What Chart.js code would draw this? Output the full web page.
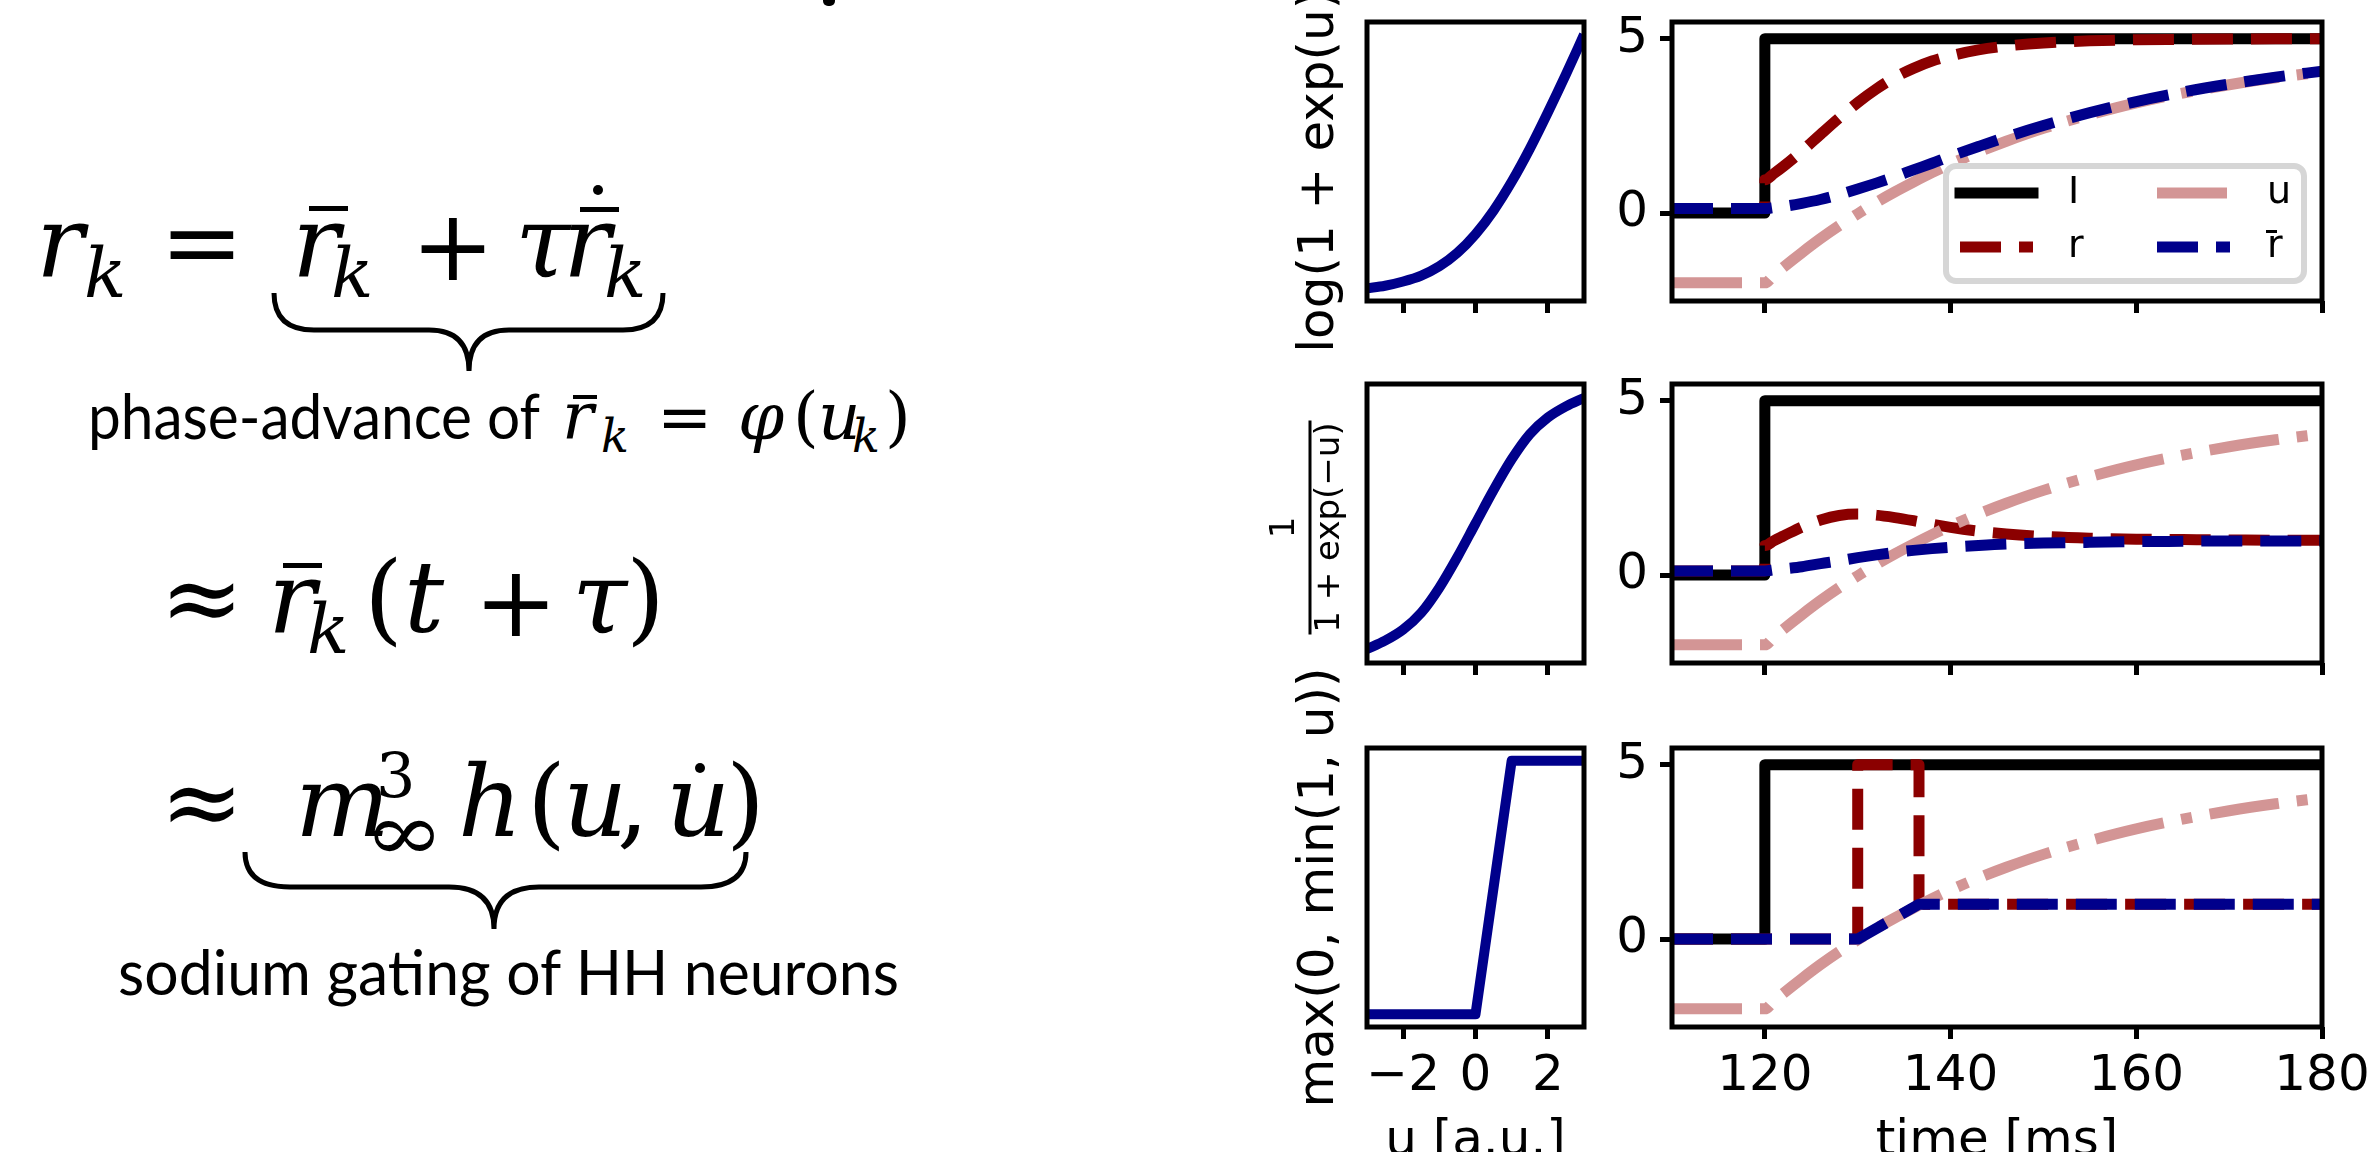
<!DOCTYPE html>
<html>
<head>
<meta charset="utf-8">
<title>phase-advance rate models</title>
<script src="https://cdn.jsdelivr.net/npm/chart.js@4.4.1/dist/chart.umd.min.js"></script>
<style>
  html, body { margin:0; padding:0; background:#fff; }
  body { width:2380px; height:1152px; overflow:hidden; position:relative; }
  canvas { position:absolute; }
  #eq { position:absolute; left:0; top:0; }
  .mi { font-family:'DejaVu Serif',serif; font-style:italic; font-size:100px; }
  .ms { font-family:'DejaVu Serif',serif; font-style:italic; font-size:70px; }
  .mo { font-family:'DejaVu Serif',serif; font-size:100px; }
  .tx { font-family:Lato,sans-serif; font-size:62px; }
</style>
</head>
<body>

<!-- left: the equations of the slide -->
<svg id="eq" width="1240" height="1152" xmlns="http://www.w3.org/2000/svg">
  <rect x="823" y="-6" width="12" height="12" rx="5"/>

  <text class="mi" x="36" y="276">r</text>
  <text class="ms" x="84" y="297">k</text>
  <text class="mo" x="160" y="276">=</text>
  <text class="mi" x="292" y="276">r</text>
  <rect x="309" y="206" width="39" height="5"/>
  <text class="ms" x="331" y="297">k</text>
  <text class="mo" x="411" y="280">+</text>
  <text class="mi" x="515" y="276">τ</text>
  <text class="mi" x="563" y="276">r</text>
  <rect x="580" y="207" width="39" height="5"/>
  <circle cx="598" cy="190" r="5"/>
  <text class="ms" x="604" y="297">k</text>
  <path d="M274,293 Q274,330 314,330 L429,330 Q469,330 469,371 Q469,330 509,330 L623,330 Q663,330 663,293" fill="none" stroke="#000" stroke-width="5"/>

  <text class="tx" x="88" y="439" textLength="452" lengthAdjust="spacingAndGlyphs">phase-advance of</text>
  <text class="mi" style="font-size:66px" x="562" y="439">r</text>
  <rect x="573" y="395" width="24" height="4"/>
  <text class="ms" style="font-size:46px" x="601" y="452">k</text>
  <text class="mo" style="font-size:66px" x="657" y="439">=</text>
  <text class="mi" style="font-size:66px" x="738" y="439">φ</text>
  <text class="mo" style="font-size:66px" x="793" y="439">(</text>
  <text class="mi" style="font-size:66px" x="818" y="439">u</text>
  <text class="ms" style="font-size:46px" x="852" y="452">k</text>
  <text class="mo" style="font-size:66px" x="885" y="439">)</text>

  <text class="mo" x="160" y="632">≈</text>
  <text class="mi" x="268" y="632">r</text>
  <rect x="283" y="563" width="39" height="5"/>
  <text class="ms" x="307" y="653">k</text>
  <text class="mo" x="364" y="632">(</text>
  <text class="mi" x="404" y="632">t</text>
  <text class="mo" x="474" y="636">+</text>
  <text class="mi" x="572" y="632">τ</text>
  <text class="mo" x="626" y="632">)</text>

  <text class="mo" x="160" y="836">≈</text>
  <text class="mi" x="295" y="836">m</text>
  <text class="mo" style="font-size:62px" x="376" y="797">3</text>
  <text class="mo" style="font-size:80px" x="364" y="860" textLength="80" lengthAdjust="spacingAndGlyphs">∞</text>
  <text class="mi" x="458" y="836">h</text>
  <text class="mo" x="527" y="836">(</text>
  <text class="mi" x="563" y="836">u</text>
  <text class="mo" x="617" y="836">,</text>
  <text class="mi" x="666" y="836">u</text>
  <circle cx="700" cy="768" r="5"/>
  <text class="mo" x="726" y="836">)</text>
  <path d="M245,852 Q245,887 290,887 L449,887 Q494,887 494,929 Q494,887 539,887 L701,887 Q746,887 746,852" fill="none" stroke="#000" stroke-width="5"/>

  <text class="tx" x="118" y="995" textLength="781" lengthAdjust="spacingAndGlyphs">sodium gating of HH neurons</text>
</svg>

<canvas id="phi1"></canvas>
<canvas id="phi2"></canvas>
<canvas id="phi3"></canvas>
<canvas id="sim1"></canvas>
<canvas id="sim2"></canvas>
<canvas id="sim3"></canvas>

<script>
/* ---- transfer functions (left column) ---- */
var uGrid        = [-3, -2.5, -2, -1.5, -1, -0.5, 0, 0.5, 1, 1.5, 2, 2.5, 3];
var softplusVals = [0.05, 0.08, 0.13, 0.20, 0.31, 0.47, 0.69, 0.97, 1.31, 1.70, 2.13, 2.58, 3.05];
var sigmoidVals  = [0.05, 0.08, 0.12, 0.18, 0.27, 0.38, 0.50, 0.62, 0.73, 0.82, 0.88, 0.92, 0.95];
var hardGrid     = [-3, 0, 1, 3];
var hardVals     = [0, 0, 1, 1];
var uTicks       = [-2, 0, 2];

/* ---- responses to a current step (right column) ---- */
var timeI  = [110, 120, 120, 180];
var iVals  = [0, 0, 5, 5];

var timeU  = [110, 120, 121, 122, 124, 126, 128, 130, 132, 134, 136, 138, 140, 143, 146, 150, 155, 160, 165, 170, 175, 180];
var uVals  = [-2.00, -2.00, -1.77, -1.55, -1.13, -0.73, -0.36, -0.02, 0.31, 0.61, 0.89, 1.16, 1.41, 1.75, 2.06, 2.43, 2.82, 3.16, 3.44, 3.68, 3.88, 4.05];
var rbarSoftplus = [0.13, 0.13, 0.16, 0.19, 0.28, 0.39, 0.53, 0.69, 0.86, 1.04, 1.24, 1.43, 1.63, 1.91, 2.18, 2.51, 2.88, 3.20, 3.47, 3.70, 3.90, 4.07];
var rbarSigmoid  = [0.12, 0.12, 0.15, 0.18, 0.24, 0.33, 0.41, 0.50, 0.58, 0.65, 0.71, 0.76, 0.80, 0.85, 0.89, 0.92, 0.94, 0.96, 0.97, 0.98, 0.98, 0.98];

var timeR  = [110, 120, 120, 121, 122, 124, 126, 128, 130, 132, 134, 136, 138, 140, 143, 146, 150, 155, 160, 165, 170, 175, 180];
var rSoftplus = [0.13, 0.13, 0.96, 1.14, 1.34, 1.78, 2.26, 2.73, 3.17, 3.56, 3.89, 4.15, 4.36, 4.51, 4.68, 4.79, 4.88, 4.94, 4.97, 4.98, 4.99, 5.00, 5.00];
var rSigmoid  = [0.12, 0.12, 0.85, 0.99, 1.12, 1.38, 1.58, 1.71, 1.75, 1.72, 1.65, 1.56, 1.46, 1.37, 1.26, 1.18, 1.11, 1.06, 1.03, 1.02, 1.01, 1.00, 1.00];

var timeRbarHard = [110, 130, 136.6, 180];
var rbarHard     = [0, 0, 1, 1];
var timeRHard    = [110, 130, 130, 136.6, 136.6, 180];
var rHard        = [0, 0, 5, 5, 1, 1];

var timeTicks  = [120, 140, 160, 180];
var valueTicks = [0, 5];

/* ---- styles ---- */
var FONT = "'DejaVu Sans', sans-serif";
var COL = { I:'#000000', r:'#8b0000', u:'#d39595', rbar:'#00008b' };
var LW = 11;
var DASH = [41, 18];
var DASHDOT = [70, 18, 11, 18];

var ROWS = [22, 384, 748];
var ROW_H = 279;
var LEFT_X = 1367, LEFT_W = 217;
var RIGHT_X = 1672, RIGHT_W = 650;

Chart.defaults.font.family = FONT;

function pts(xs, ys) { return xs.map(function(x, i) { return { x:x, y:ys[i] }; }); }
function fmtTick(v) { return v < 0 ? '\u2212' + Math.abs(v) : String(v); }

function roundRect(ctx, x, y, w, h, r) {
  ctx.beginPath();
  ctx.moveTo(x + r, y);
  ctx.arcTo(x + w, y, x + w, y + h, r);
  ctx.arcTo(x + w, y + h, x, y + h, r);
  ctx.arcTo(x, y + h, x, y, r);
  ctx.arcTo(x, y, x + w, y, r);
  ctx.closePath();
}

function drawLegend(chart) {
  var ctx = chart.ctx, a = chart.chartArea;
  ctx.save();
  roundRect(ctx, a.left + 274, a.top + 144, 358, 115, 10);
  ctx.fillStyle = 'rgba(255,255,255,0.8)';
  ctx.fill();
  ctx.lineWidth = 6;
  ctx.strokeStyle = '#d6d6d6';
  ctx.stroke();
  // matplotlib fills the legend column by column
  var slots = [['I', 288, 396, 171], ['r', 288, 396, 225], ['u', 485, 595, 171], ['rbar', 485, 595, 225]];
  slots.forEach(function(s) {
    var ds = chart.data.datasets.filter(function(d) { return d.key === s[0]; })[0];
    var y = a.top + s[3];
    ctx.beginPath();
    ctx.setLineDash(ds.borderDash || []);
    ctx.lineCap = ds.borderDash ? 'butt' : 'square';
    ctx.lineWidth = ds.borderWidth;
    ctx.strokeStyle = ds.borderColor;
    ctx.moveTo(a.left + s[1], y);
    ctx.lineTo(a.left + s[1] + 73, y);
    ctx.stroke();
    ctx.setLineDash([]);
    ctx.fillStyle = '#000';
    ctx.font = '38px ' + FONT;
    ctx.textAlign = 'left';
    ctx.textBaseline = 'middle';
    ctx.fillText(s[0] === 'rbar' ? 'r' : ds.label, a.left + s[2], y);
    if (s[0] === 'rbar') ctx.fillRect(a.left + s[2] - 1, y - 17, 11, 3);
  });
  ctx.restore();
}

var panelPlugin = {
  id: 'panel',
  afterDatasetsDraw: function(chart) {
    var a = chart.chartArea, ctx = chart.ctx;
    ctx.save();
    ctx.strokeStyle = '#000';
    ctx.lineWidth = 5;
    ctx.strokeRect(a.left, a.top, a.right - a.left, a.bottom - a.top);
    ctx.restore();
  },
  afterDraw: function(chart, args, o) {
    var ctx = chart.ctx, a = chart.chartArea;
    if (o.ytitle) {
      var cy = (a.top + a.bottom) / 2 + (o.dy || 0);
      ctx.save();
      ctx.fillStyle = '#000';
      ctx.textAlign = 'center';
      ctx.textBaseline = 'middle';
      ctx.font = o.size + 'px ' + FONT;
      o.ytitle.forEach(function(line, i) {
        ctx.save();
        ctx.translate(o.xs[i], cy);
        ctx.rotate(-Math.PI / 2);
        ctx.fillText(line, 0, 0);
        ctx.restore();
      });
      if (o.bar) ctx.fillRect(o.bar[0] - 1.5, cy - o.bar[1] / 2, 3, o.bar[1]);
      ctx.restore();
    }
    if (o.legend) drawLegend(chart);
  }
};

function xScale(s) {
  return {
    type: 'linear', min: s.xmin, max: s.xmax,
    afterBuildTicks: function(sc) { sc.ticks = s.xticks.map(function(v) { return { value:v }; }); },
    afterFit: function(sc) { sc.height = s.xh; },
    ticks: { display: s.xlabels, font: { size:50 }, color:'#000', padding:8, autoSkip:false, maxRotation:0, minRotation:0, callback: fmtTick },
    grid: { display:true, drawOnChartArea:false, drawTicks:true, tickLength:12, tickWidth:5, tickColor:'#000' },
    border: { display:false },
    title: s.xtitle ? { display:true, text:s.xtitle, color:'#000', font:{ size:50 }, padding:{ top:0, bottom:5 } } : { display:false }
  };
}

function yScale(s) {
  if (!s.yticks) return { display:false, min:s.ymin, max:s.ymax };
  return {
    type: 'linear', min: s.ymin, max: s.ymax,
    afterBuildTicks: function(sc) { sc.ticks = s.yticks.map(function(v) { return { value:v }; }); },
    afterFit: function(sc) { sc.width = s.yAxisW; },
    ticks: { font: { size:50 }, color:'#000', padding:12, autoSkip:false, callback: fmtTick },
    grid: { display:true, drawOnChartArea:false, drawTicks:true, tickLength:12, tickWidth:5, tickColor:'#000' },
    border: { display:false }
  };
}

function buildChart(id, s) {
  var padT = s.padT;
  var c = document.getElementById(id);
  c.width = s.yAxisW + s.w + s.padR;
  c.height = padT + ROW_H + s.xh;
  c.style.left = (s.left - s.yAxisW) + 'px';
  c.style.top = (s.top - padT) + 'px';
  return new Chart(c.getContext('2d'), {
    type: 'line',
    data: { datasets: s.datasets },
    options: {
      responsive: false, animation: false, devicePixelRatio: 1, events: [],
      layout: { padding: { left: s.yticks ? 0 : s.yAxisW, top: padT, right: s.padR, bottom: 0 } },
      elements: { point: { radius:0, hoverRadius:0 }, line: { borderJoinStyle:'round', borderCapStyle:'butt', fill:false } },
      plugins: { legend: { display:false }, tooltip: { enabled:false }, panel: s.panel || {} },
      scales: { x: xScale(s), y: yScale(s) }
    },
    plugins: [panelPlugin]
  });
}

function phiSet(xs, ys, smooth) {
  return [{ label:'phi', data: pts(xs, ys), borderColor: COL.rbar, borderWidth: 10, clip: 0,
            cubicInterpolationMode: smooth ? 'monotone' : 'default', tension: smooth ? 0.4 : 0 }];
}

function simSet(rX, rY, rbX, rbY, smooth) {
  var mode = smooth ? 'monotone' : 'default', ten = smooth ? 0.4 : 0;
  return [
    { key:'I', label:'I', data: pts(timeI, iVals), borderColor: COL.I, borderWidth: LW, clip: 0, tension: 0, order: 3 },
    { key:'r', label:'r', data: pts(rX, rY), borderColor: COL.r, borderWidth: LW, borderDash: DASH, clip: 0, cubicInterpolationMode: mode, tension: ten, order: 2 },
    { key:'u', label:'u', data: pts(timeU, uVals), borderColor: COL.u, borderWidth: LW, borderDash: DASHDOT, clip: 0, cubicInterpolationMode: 'monotone', tension: 0.4, order: 1 },
    { key:'rbar', label:'r\u0304', data: pts(rbX, rbY), borderColor: COL.rbar, borderWidth: LW, borderDash: DASH, clip: 0, cubicInterpolationMode: mode, tension: ten, order: 0 }
  ];
}

var leftBase = { left: LEFT_X, w: LEFT_W, yAxisW: 117, padR: 20, padT: 130, xmin: -3, xmax: 3, xticks: uTicks };
var rightBase = { left: RIGHT_X, w: RIGHT_W, yAxisW: 72, padR: 60, padT: 50, xmin: 110, xmax: 180, xticks: timeTicks,
                  ymin: -2.52, ymax: 5.48, yticks: valueTicks };

function merge(a, b) { var o = {}, k; for (k in a) o[k] = a[k]; for (k in b) o[k] = b[k]; return o; }

buildChart('phi1', merge(leftBase, { top: ROWS[0], xh: 50, xlabels: false, ymin: -0.1, ymax: 3.2,
  datasets: phiSet(uGrid, softplusVals, true),
  panel: { ytitle: ['log(1 + exp(u))'], xs: [70], size: 50 } }));
buildChart('phi2', merge(leftBase, { top: ROWS[1], xh: 50, xlabels: false, ymin: 0.0, ymax: 1.0,
  datasets: phiSet(uGrid, sigmoidVals, true),
  panel: { ytitle: ['1', '1 + exp(\u2212u)'], xs: [35, 80], size: 34, dy: 4, bar: [60, 214] } }));
buildChart('phi3', merge(leftBase, { top: ROWS[2], xh: 150, xlabels: true, xtitle: 'u [a.u.]', ymin: -0.05, ymax: 1.05,
  datasets: phiSet(hardGrid, hardVals, false),
  panel: { ytitle: ['max(0, min(1, u))'], xs: [70], size: 50 } }));

buildChart('sim1', merge(rightBase, { top: ROWS[0], xh: 50, xlabels: false,
  datasets: simSet(timeR, rSoftplus, timeU, rbarSoftplus, true), panel: { legend: true } }));
buildChart('sim2', merge(rightBase, { top: ROWS[1], xh: 50, xlabels: false,
  datasets: simSet(timeR, rSigmoid, timeU, rbarSigmoid, true) }));
buildChart('sim3', merge(rightBase, { top: ROWS[2], xh: 150, xlabels: true, xtitle: 'time [ms]',
  datasets: simSet(timeRHard, rHard, timeRbarHard, rbarHard, false) }));
</script>
</body>
</html>
